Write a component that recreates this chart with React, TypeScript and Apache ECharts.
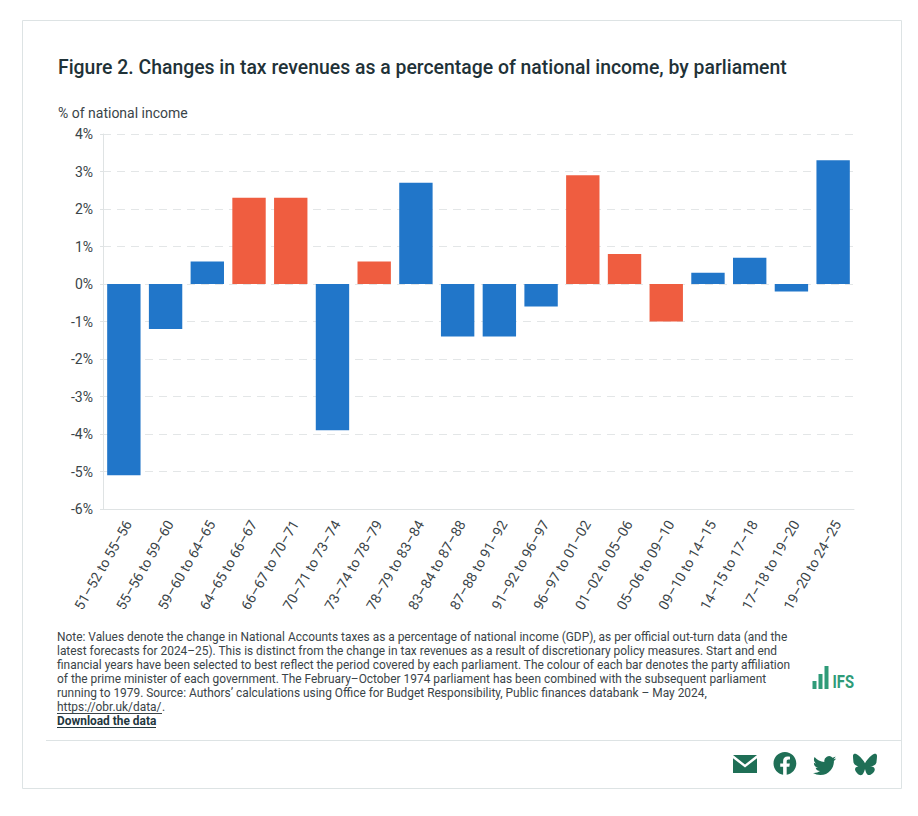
import React, { useEffect, useRef } from "react";
import * as echarts from "echarts";

const categories = ["51–52 to 55–56","55–56 to 59–60","59–60 to 64–65","64–65 to 66–67","66–67 to 70–71","70–71 to 73–74","73–74 to 78–79","78–79 to 83–84","83–84 to 87–88","87–88 to 91–92","91–92 to 96–97","96–97 to 01–02","01–02 to 05–06","05–06 to 09–10","09–10 to 14–15","14–15 to 17–18","17–18 to 19–20","19–20 to 24–25"];
const values = [-5.1,-1.2,0.6,2.3,2.3,-3.9,0.6,2.7,-1.4,-1.4,-0.6,2.9,0.8,-1.0,0.3,0.7,-0.2,3.3];
const parties = ["C","C","C","L","L","C","L","C","C","C","C","L","L","L","C","C","C","C"];
const partyColours: Record<string, string> = { C: "#2176c9", L: "#ef5d40" };
const noteLines = [
  "Note: Values denote the change in National Accounts taxes as a percentage of national income (GDP), as per official out-turn data (and the",
  "latest forecasts for 2024–25). This is distinct from the change in tax revenues as a result of discretionary policy measures. Start and end",
  "financial years have been selected to best reflect the period covered by each parliament. The colour of each bar denotes the party affiliation",
  "of the prime minister of each government. The February–October 1974 parliament has been combined with the subsequent parliament",
  "running to 1979. Source: Authors’ calculations using Office for Budget Responsibility, Public finances databank – May 2024,",
];

const FONT = "Roboto";
const GREEN = "#1f6f56";
const LOGO = "#2f9b78";
const TEXT = "#3a4448";

const mail = "M0 0H24L12 9.5Z M0 3.2L12 12.5L24 3.2V18H0Z";
const facebook = "M24 12.073c0-6.627-5.373-12-12-12s-12 5.373-12 12c0 5.99 4.388 10.954 10.125 11.854v-8.385H7.078v-3.47h3.047V9.43c0-3.007 1.792-4.669 4.533-4.669 1.312 0 2.686.235 2.686.235v2.953H15.83c-1.491 0-1.956.925-1.956 1.874v2.25h3.328l-.532 3.47h-2.796v8.385C19.612 23.027 24 18.062 24 12.073z";
const twitter = "M23.953 4.57a10 10 0 0 1-2.825.775 4.958 4.958 0 0 0 2.163-2.723c-.951.555-2.005.959-3.127 1.184a4.92 4.92 0 0 0-8.384 4.482C7.69 8.095 4.067 6.13 1.64 3.162a4.822 4.822 0 0 0-.666 2.475c0 1.71.87 3.213 2.188 4.096a4.904 4.904 0 0 1-2.228-.616v.06a4.923 4.923 0 0 0 3.946 4.827 4.996 4.996 0 0 1-2.212.085 4.936 4.936 0 0 0 4.604 3.417 9.867 9.867 0 0 1-6.102 2.105c-.39 0-.779-.023-1.17-.067a13.995 13.995 0 0 0 7.557 2.209c9.053 0 13.998-7.496 13.998-13.985 0-.21 0-.42-.015-.63A9.935 9.935 0 0 0 24 4.59z";
const bluesky = "M12 10.8c-1.087-2.114-4.046-6.053-6.798-7.995C2.566.944 1.561 1.266.902 1.565.139 1.908 0 3.08 0 3.768c0 .69.378 5.65.624 6.479.815 2.736 3.713 3.66 6.383 3.364-3.912.58-7.387 2.005-2.83 7.078 5.013 5.19 6.87-1.113 7.823-4.308.953 3.195 2.05 9.271 7.733 4.308 4.267-4.308 1.172-6.498-2.74-7.078 2.67.297 5.568-.628 6.383-3.364.246-.828.624-5.79.624-6.479 0-.688-.139-1.86-.902-2.203-.659-.299-1.664-.621-4.3 1.24C16.046 4.748 13.087 8.687 12 10.8z";

echarts.graphic.registerShape("iconMail", echarts.graphic.extendPath(mail, {}));
echarts.graphic.registerShape("iconFacebook", echarts.graphic.extendPath(facebook, {}));
echarts.graphic.registerShape("iconTwitter", echarts.graphic.extendPath(twitter, {}));
echarts.graphic.registerShape("iconBluesky", echarts.graphic.extendPath(bluesky, {}));

export default function App() {
  const ref = useRef<HTMLDivElement>(null);
  useEffect(() => {
    const chart = echarts.init(ref.current!, null, { renderer: "svg" });
    const graphics: any[] = [
      { type: "rect", shape: { x: 22.5, y: 20.5, width: 879, height: 768 }, style: { fill: "#fff", stroke: "#dde3e4", lineWidth: 1 }, z: -1 },
      { type: "line", shape: { x1: 46, y1: 740.5, x2: 901, y2: 740.5 }, style: { stroke: "#dde3e4", lineWidth: 1 } },
      { type: "text", x: 58, y: 67, style: { text: "Figure 2. Changes in tax revenues as a percentage of national income, by parliament", font: `500 19.4px ${FONT}`, fill: "#1f3238", textVerticalAlign: "middle" } },
      { type: "text", x: 58, y: 113, style: { text: "% of national income", font: `14px ${FONT}`, fill: TEXT, textVerticalAlign: "middle" } },
      ...noteLines.map((text, i) => ({ type: "text", x: 57, y: 637 + i * 14, style: { text, font: `11.92px ${FONT}`, fill: TEXT, textVerticalAlign: "middle" } })),
      { type: "text", x: 57, y: 707, style: { text: "https://obr.uk/data/", font: `11.92px ${FONT}`, fill: TEXT, textVerticalAlign: "middle" } },
      { type: "text", x: 162, y: 707, style: { text: ".", font: `11.92px ${FONT}`, fill: TEXT, textVerticalAlign: "middle" } },
      { type: "line", shape: { x1: 57, y1: 713.5, x2: 162, y2: 713.5 }, style: { stroke: TEXT, lineWidth: 1 } },
      { type: "text", x: 57, y: 721, style: { text: "Download the data", font: `700 11.92px ${FONT}`, fill: "#24383f", textVerticalAlign: "middle" } },
      { type: "line", shape: { x1: 57, y1: 727.5, x2: 156, y2: 727.5 }, style: { stroke: "#24383f", lineWidth: 1 } },
      { type: "rect", shape: { x: 812.5, y: 681, width: 4, height: 8 }, style: { fill: LOGO } },
      { type: "rect", shape: { x: 818.5, y: 674, width: 4, height: 15 }, style: { fill: LOGO } },
      { type: "rect", shape: { x: 824.5, y: 666, width: 4, height: 23 }, style: { fill: LOGO } },
      { type: "text", x: 832.5, y: 682, scaleX: 0.82, style: { text: "IFS", font: `700 18px "Liberation Sans Narrow", ${FONT}`, fill: LOGO, textVerticalAlign: "middle" } },
      { type: "iconMail", x: 733, y: 755, scaleX: 1, scaleY: 1, style: { fill: GREEN } },
      { type: "iconFacebook", x: 773.5, y: 752, scaleX: 0.95, scaleY: 0.95, style: { fill: GREEN } },
      { type: "iconTwitter", x: 813, y: 754, scaleX: 0.97, scaleY: 0.97, style: { fill: GREEN } },
      { type: "iconBluesky", x: 853, y: 752.5, scaleX: 1, scaleY: 1, style: { fill: GREEN } },
    ];
    chart.setOption({
      animation: false,
      backgroundColor: "#fff",
      textStyle: { fontFamily: FONT },
      grid: { left: 103, right: 64, top: 134, bottom: 307, containLabel: false },
      xAxis: {
        type: "category",
        data: categories,
        position: "bottom",
        axisLine: { onZero: false, lineStyle: { color: "#dfe3e4" } },
        axisTick: { alignWithLabel: true, length: 7, lineStyle: { color: "#dfe3e4" } },
        axisLabel: { rotate: 60, interval: 0, fontFamily: FONT, fontSize: 14, color: TEXT, margin: 10, verticalAlign: "top", lineHeight: 10 },
        splitLine: { show: false },
      },
      yAxis: {
        type: "value",
        min: -6,
        max: 4,
        interval: 1,
        axisLine: { show: true, lineStyle: { color: "#dfe3e4" } },
        axisTick: { show: true, length: 3, lineStyle: { color: "#dfe3e4" } },
        axisLabel: { formatter: "{value}%", fontFamily: FONT, fontSize: 14, color: TEXT, margin: 10 },
        splitLine: { show: true, lineStyle: { color: "#e3e6e7", type: [8, 6] } },
      },
      series: [{
        type: "bar",
        barCategoryGap: "20%",
        data: values.map((value, i) => ({ value, itemStyle: { color: partyColours[parties[i]] } })),
      }],
      graphic: { elements: graphics },
    });
    return () => chart.dispose();
  }, []);
  return <div ref={ref} style={{ position: "absolute", left: 0, top: 0, width: 918, height: 816 }} />;
}
